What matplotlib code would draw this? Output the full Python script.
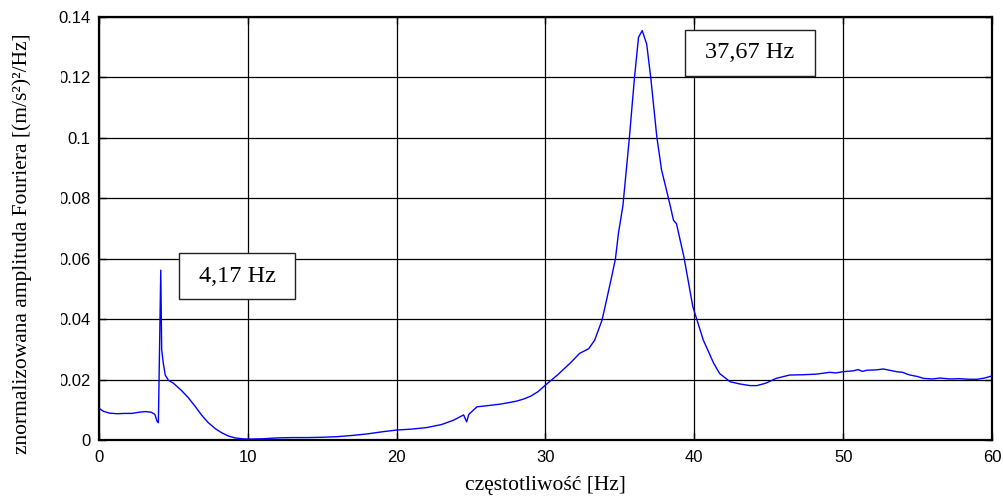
import matplotlib
matplotlib.use("Agg")
import matplotlib.pyplot as plt
from matplotlib.patches import Rectangle
from matplotlib.ticker import FuncFormatter

# ---- data ----
freq = [0.0, 0.3, 0.7, 1.2, 1.7, 2.2, 2.7, 3.1, 3.5, 3.75, 3.9, 3.99,
        4.15, 4.21, 4.32, 4.45, 4.66, 5.0, 5.56, 6.0, 6.45, 6.9, 7.33, 7.8,
        8.24, 8.7, 9.14, 9.6, 10.0, 11.0, 12.0, 13.0, 14.0, 15.0, 16.0, 17.0,
        18.0, 19.0, 20.0, 21.0, 22.0, 23.0, 23.8, 24.5, 24.7, 24.85, 25.4,
        26.0, 27.0, 28.0, 28.5, 29.0, 29.5, 30.0, 30.8, 31.65, 32.3, 32.9,
        33.3, 33.8, 34.1, 34.4, 34.7, 34.9, 35.2, 35.64, 35.98, 36.25, 36.5,
        36.8, 37.07, 37.48, 37.8, 38.08, 38.4, 38.6, 38.8, 39.3, 39.9, 40.6,
        41.3, 41.7, 42.4, 43.0, 43.75, 44.2, 44.8, 45.5, 46.4, 47.3, 48.2,
        49.1, 49.5, 50.0, 50.7, 51.0, 51.3, 51.6, 52.2, 52.7, 53.2, 53.6,
        54.0, 54.3, 54.5, 55.0, 55.4, 56.0, 56.5, 57.2, 57.8, 58.5, 59.0,
        59.5, 60.0]
amp = [0.0105, 0.0095, 0.0089, 0.0087, 0.0088, 0.0088, 0.0092, 0.0094,
       0.0092, 0.0085, 0.0062, 0.0057,
       0.0562, 0.0300, 0.0254, 0.0215, 0.0198, 0.0188, 0.0163, 0.0140,
       0.0112, 0.0082, 0.0058, 0.0038,
       0.0024, 0.0013, 0.0007, 0.0004, 0.0003, 0.0004, 0.0007, 0.0008,
       0.0008, 0.0009, 0.0011, 0.0015,
       0.0020, 0.0027, 0.0033, 0.0036, 0.0041, 0.0051, 0.0065, 0.0083,
       0.0060, 0.0085, 0.0110,
       0.0113, 0.0119, 0.0128, 0.0135, 0.0145, 0.0160, 0.0182, 0.0215,
       0.0254, 0.0287, 0.0302,
       0.0330, 0.0397, 0.0463, 0.0530, 0.0600, 0.0684, 0.0775, 0.1003,
       0.1200, 0.1333, 0.1355,
       0.1310, 0.1200, 0.1003, 0.0893, 0.0837, 0.0771, 0.0727, 0.0716,
       0.0606, 0.0441, 0.0331,
       0.0254, 0.0220, 0.0193, 0.0186, 0.0180, 0.0180, 0.0188, 0.0204,
       0.0215, 0.0216, 0.0218,
       0.0224, 0.0222, 0.0226, 0.0229, 0.0233, 0.0227, 0.0231, 0.0232,
       0.0235, 0.0230, 0.0226,
       0.0224, 0.0218, 0.0215, 0.0210, 0.0204, 0.0202, 0.0205, 0.0202,
       0.0203, 0.0201, 0.0201,
       0.0205, 0.0212]

xticks = [0, 10, 20, 30, 40, 50, 60]
yticks = [0, 0.02, 0.04, 0.06, 0.08, 0.1, 0.12, 0.14]
xlabel = "częstotliwość [Hz]"
ylabel = "znormalizowana amplituda Fouriera [(m/s²)²/Hz]"
peak_labels = ["4,17 Hz", "37,67 Hz"]

# ---- figure ----
fig = plt.figure(figsize=(10.04, 4.99), dpi=100)
ax = fig.add_axes([99 / 1004, 59 / 499, 893 / 1004, 423 / 499])

ax.plot(freq, amp, color=(0, 0, 1), lw=1.0, zorder=3)

ax.set_xlim(0, 60)
ax.set_ylim(0, 0.14)
ax.set_xticks(xticks)
ax.set_yticks(yticks)
ax.yaxis.set_major_formatter(FuncFormatter(lambda v, p: "%g" % v))
ax.xaxis.set_major_formatter(FuncFormatter(lambda v, p: "%g" % v))

ax.grid(True, color="black", lw=0.9, ls="-", zorder=1)
ax.set_axisbelow(True)
for s in ax.spines.values():
    s.set_linewidth(1.6)
    s.set_color("black")

ax.tick_params(direction="in", length=5, width=1, top=True, right=True,
               labelsize=12, colors="black")
ax.tick_params(axis="y", pad=6)
ax.tick_params(axis="x", pad=7)
for lab in ax.get_xticklabels() + ax.get_yticklabels():
    lab.set_family("Liberation Sans")

ax.set_xlabel(xlabel, family="Liberation Serif", fontsize=15.5, labelpad=8)
ax.set_ylabel(ylabel, family="Liberation Serif", fontsize=15.5)
ax.yaxis.set_label_coords(-0.075, 0.464)

# annotation boxes (axes fraction)
boxes = [(0.0899, 0.333, 0.2195, 0.4423), (0.6562, 0.8602, 0.8018, 0.9698)]
for (x0, y0, x1, y1), txt in zip(boxes, peak_labels):
    ax.add_patch(Rectangle((x0, y0), x1 - x0, y1 - y0, transform=ax.transAxes,
                           facecolor="white", edgecolor="#222222", lw=1.0,
                           zorder=5))
    ax.text((x0 + x1) / 2, (y0 + y1) / 2, txt, transform=ax.transAxes,
            ha="center", va="center", family="Liberation Serif",
            fontsize=17.5, zorder=6)

# white strip partially hiding y tick labels (as in reference)
fig.patches.append(Rectangle((36 / 1004, (499 - 420) / 499), 24.5 / 1004,
                             375 / 499, transform=fig.transFigure,
                             facecolor="white", edgecolor="none", zorder=10))

fig.savefig("out.png", dpi=100)
